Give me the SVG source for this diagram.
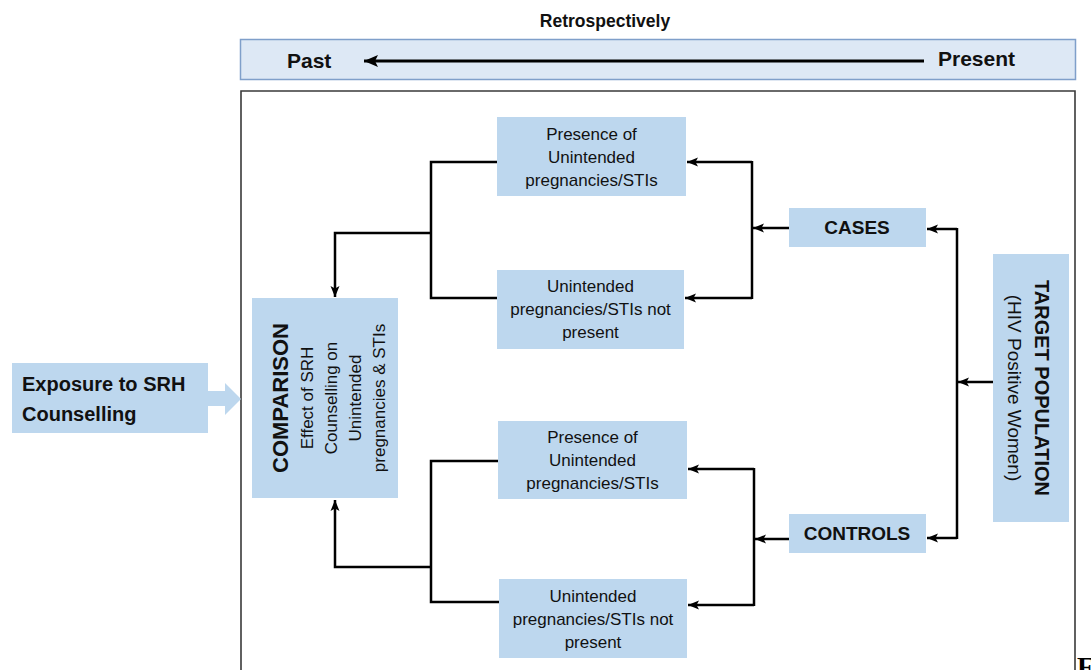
<svg xmlns="http://www.w3.org/2000/svg" width="1091" height="670" viewBox="0 0 1091 670">
<style>
.box{fill:#bdd7ee;}
.t{font-family:"Liberation Sans",Arial,sans-serif;fill:#111;}
.s{font-size:17px;}
.b{font-weight:bold;}
.c{stroke:#000;stroke-width:2.5;fill:none;stroke-linejoin:miter;}
</style>
<defs>
<marker id="ah" markerUnits="userSpaceOnUse" markerWidth="13" markerHeight="11" viewBox="0 -5.5 13 11" refX="11" refY="0" orient="auto">
<path d="M0,-4.5 L11,0 L0,4.5 L2.5,0 Z" fill="#000"/>
</marker>
<marker id="ahBig" markerUnits="userSpaceOnUse" markerWidth="16" markerHeight="14" viewBox="0 -7 16 14" refX="14" refY="0" orient="auto">
<path d="M0,-6 L14,0 L0,6 L3,0 Z" fill="#000"/>
</marker>
</defs>
<rect width="1091" height="670" fill="#fff"/>

<g id="timeline">
<text class="t b" x="605" y="27" font-size="17.5" text-anchor="middle">Retrospectively</text>
<rect x="240.5" y="39.5" width="835" height="40" fill="#dde8f5" stroke="#7f9fca" stroke-width="1.5"/>
<text class="t b" x="287" y="68" font-size="21">Past</text>
<text class="t b" x="938" y="66" font-size="21">Present</text>
<line x1="924" y1="61" x2="364" y2="61" stroke="#000" stroke-width="3" marker-end="url(#ahBig)"/>
</g>

<g id="frame">
<path d="M241,675 V91 H1075 V675" fill="none" stroke="#3a3a3a" stroke-width="1.6"/>
</g>

<g id="exposure">
<rect class="box" x="12" y="363" width="196" height="70"/>
<text class="t b" x="22" y="391" font-size="20">Exposure to SRH</text>
<text class="t b" x="22" y="421" font-size="20">Counselling</text>
</g>

<g id="exposure-arrow">
<path d="M208,391 H225 V383 L241,399 L225,415 V406 H208 Z" fill="#bdd7ee"/>
</g>

<g id="comparison">
<rect class="box" x="252" y="298" width="146" height="200"/>
<g transform="translate(0,398) rotate(-90)">
<text class="t b" x="0" y="288" font-size="22" text-anchor="middle">COMPARISON</text>
<text class="t s" x="0" y="313" text-anchor="middle">Effect of SRH</text>
<text class="t s" x="0" y="337" text-anchor="middle">Counselling on</text>
<text class="t s" x="0" y="361" text-anchor="middle">Unintended</text>
<text class="t s" x="0" y="385" text-anchor="middle">pregnancies &amp; STIs</text>
</g>
</g>

<g id="cases-presence">
<rect class="box" x="497" y="117" width="189" height="79"/>
<text class="t s" x="591.5" y="140" text-anchor="middle">Presence of</text>
<text class="t s" x="591.5" y="163" text-anchor="middle">Unintended</text>
<text class="t s" x="591.5" y="186" text-anchor="middle">pregnancies/STIs</text>
</g>

<g id="cases-absence">
<rect class="box" x="497" y="270" width="187" height="79"/>
<text class="t s" x="590.5" y="292" text-anchor="middle">Unintended</text>
<text class="t s" x="590.5" y="315" text-anchor="middle">pregnancies/STIs not</text>
<text class="t s" x="590.5" y="338" text-anchor="middle">present</text>
</g>

<g id="controls-presence">
<rect class="box" x="498" y="421" width="189" height="78"/>
<text class="t s" x="592.5" y="443" text-anchor="middle">Presence of</text>
<text class="t s" x="592.5" y="466" text-anchor="middle">Unintended</text>
<text class="t s" x="592.5" y="489" text-anchor="middle">pregnancies/STIs</text>
</g>

<g id="controls-absence">
<rect class="box" x="499" y="579" width="188" height="79"/>
<text class="t s" x="593" y="602" text-anchor="middle">Unintended</text>
<text class="t s" x="593" y="625" text-anchor="middle">pregnancies/STIs not</text>
<text class="t s" x="593" y="648" text-anchor="middle">present</text>
</g>

<g id="cases">
<rect class="box" x="789" y="208" width="137" height="39"/>
<text class="t b" x="857" y="234" font-size="19" text-anchor="middle">CASES</text>
</g>

<g id="controls">
<rect class="box" x="789" y="514" width="137" height="39"/>
<text class="t b" x="857" y="540" font-size="19" text-anchor="middle">CONTROLS</text>
</g>

<g id="target">
<rect class="box" x="993" y="254" width="76" height="268"/>
<g transform="translate(0,388) rotate(90)">
<text class="t b" x="0" y="-1035" font-size="20" text-anchor="middle">TARGET POPULATION</text>
<text class="t" x="0" y="-1008" font-size="19" text-anchor="middle">(HIV Positive Women)</text>
</g>
</g>

<g id="connectors">
<path class="c" d="M993,382 H958" marker-end="url(#ah)"/>
<path class="c" d="M957,228 V539"/>
<path class="c" d="M957,229 H927" marker-end="url(#ah)"/>
<path class="c" d="M957,538 H927" marker-end="url(#ah)"/>
<path class="c" d="M789,228 H753" marker-end="url(#ah)"/>
<path class="c" d="M789,539 H755" marker-end="url(#ah)"/>
<path class="c" d="M752,161 V299"/>
<path class="c" d="M752,162 H687" marker-end="url(#ah)"/>
<path class="c" d="M752,298 H685" marker-end="url(#ah)"/>
<path class="c" d="M754,468 V606"/>
<path class="c" d="M754,469 H688" marker-end="url(#ah)"/>
<path class="c" d="M754,605 H688" marker-end="url(#ah)"/>
<path class="c" d="M497,162 H431 V298 H497"/>
<path class="c" d="M431,233 H335 V297" marker-end="url(#ah)"/>
<path class="c" d="M498,461 H431 V602 H499"/>
<path class="c" d="M431,567 H335 V500" marker-end="url(#ah)"/>
</g>

<text x="1077" y="676" font-family="'Liberation Serif','Times New Roman',serif" font-weight="bold" font-size="28" fill="#000">F</text>
</svg>
